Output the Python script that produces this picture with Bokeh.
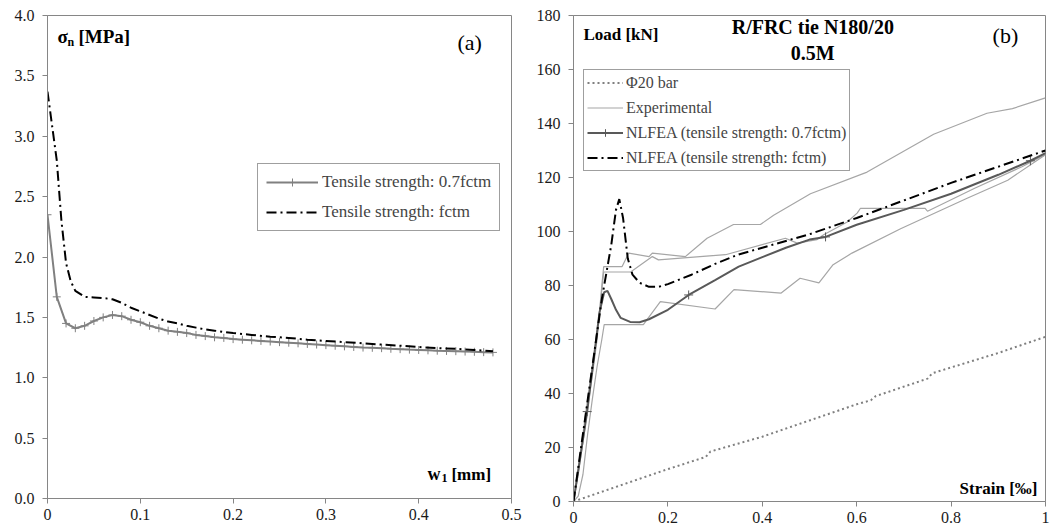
from bokeh.plotting import figure
from bokeh.models import Range1d, FixedTicker, Label
from bokeh.layouts import row
from bokeh.embed import file_html
from bokeh.resources import INLINE

# ---------------- data: panel (a) ----------------
w1_07 = [0.00, 0.01, 0.02, 0.03, 0.04, 0.05, 0.06, 0.07, 0.08, 0.09, 0.10, 0.11, 0.12, 0.13,
         0.14, 0.15, 0.16, 0.17, 0.18, 0.19, 0.20, 0.21, 0.22, 0.23, 0.24, 0.25, 0.26, 0.27,
         0.28, 0.29, 0.30, 0.31, 0.32, 0.33, 0.34, 0.35, 0.36, 0.37, 0.38, 0.39, 0.40, 0.41,
         0.42, 0.43, 0.44, 0.45, 0.46, 0.47, 0.48]
sig_07 = [2.35, 1.67, 1.45, 1.41, 1.43, 1.47, 1.50, 1.52, 1.51, 1.48, 1.46, 1.43, 1.41, 1.39,
          1.38, 1.37, 1.355, 1.345, 1.335, 1.33, 1.32, 1.315, 1.31, 1.305, 1.30, 1.295, 1.29, 1.285,
          1.28, 1.275, 1.27, 1.265, 1.26, 1.255, 1.25, 1.248, 1.245, 1.24, 1.237, 1.233, 1.23, 1.227,
          1.224, 1.222, 1.22, 1.217, 1.215, 1.212, 1.21]
w1_f = [0.00, 0.01, 0.015, 0.02, 0.025, 0.03, 0.04, 0.05, 0.06, 0.07, 0.08, 0.09, 0.10, 0.11,
        0.12, 0.13, 0.14, 0.15, 0.16, 0.17, 0.18, 0.19, 0.20, 0.22, 0.24, 0.26, 0.28, 0.30,
        0.32, 0.34, 0.36, 0.38, 0.40, 0.42, 0.44, 0.46, 0.48]
sig_f = [3.37, 2.80, 2.30, 1.95, 1.80, 1.72, 1.67, 1.665, 1.66, 1.65, 1.62, 1.58, 1.55, 1.52,
         1.49, 1.465, 1.45, 1.43, 1.415, 1.40, 1.39, 1.38, 1.37, 1.355, 1.34, 1.33, 1.315, 1.305,
         1.295, 1.285, 1.275, 1.265, 1.255, 1.245, 1.24, 1.23, 1.22]
a_xticks = [0, 0.1, 0.2, 0.3, 0.4, 0.5]
a_xlabels = ["0", "0.1", "0.2", "0.3", "0.4", "0.5"]
a_yticks = [0, 0.5, 1.0, 1.5, 2.0, 2.5, 3.0, 3.5, 4.0]
a_ylabels = ["0.0", "0.5", "1.0", "1.5", "2.0", "2.5", "3.0", "3.5", "4.0"]

# ---------------- data: panel (b) ----------------
bar_x = [0, 0.1, 0.2, 0.28, 0.29, 0.4, 0.5, 0.6, 0.63, 0.64, 0.75, 0.76, 0.9, 1.0]
bar_y = [0, 6, 12, 16.5, 18.5, 24, 30, 36, 37.5, 39, 45.5, 47.5, 55, 61]

exp1_x = [0, 0.01, 0.02, 0.03, 0.04, 0.05, 0.055, 0.06, 0.064, 0.103, 0.117, 0.16, 0.167, 0.237,
          0.283, 0.339, 0.396, 0.424, 0.502, 0.622, 0.763, 0.876, 0.93, 1.0]
exp1_y = [0, 12, 25, 38, 50, 62, 70, 80, 87, 87, 92, 90.7, 92, 90.7,
          97.5, 102.6, 102.6, 106, 114, 122, 136, 143.8, 145.5, 149.5]
exp2_x = [0, 0.01, 0.02, 0.03, 0.04, 0.05, 0.058, 0.064, 0.121, 0.167, 0.18, 0.322, 0.449, 0.474,
          0.516, 0.53, 0.58, 0.601, 0.608, 0.745, 0.75, 0.85, 0.95, 1.0]
exp2_y = [0, 10, 22, 35, 47, 60, 75, 85, 85, 90.7, 89.5, 91.4, 97.5, 95.7,
          97, 98.8, 103.5, 106.8, 108.6, 108.6, 107.5, 116, 124, 128.5]
exp3_x = [0, 0.01, 0.02, 0.03, 0.04, 0.05, 0.06, 0.065, 0.148, 0.184, 0.30, 0.34, 0.44, 0.48,
          0.52, 0.55, 0.59, 0.693, 0.834, 0.92, 1.0]
exp3_y = [0, 2, 10, 25, 38, 50, 60, 65.5, 65.5, 74, 71.3, 78.5, 77.2, 82.7,
          81, 87.7, 92, 101, 112.3, 119, 128.4]

n07_x = [0, 0.029, 0.055, 0.065, 0.072, 0.08, 0.09, 0.10, 0.12, 0.14, 0.16, 0.2, 0.244, 0.3,
         0.35, 0.4, 0.45, 0.5, 0.534, 0.6, 0.7, 0.8, 0.9, 0.968, 1.0]
n07_y = [0, 33.3, 70, 77.5, 78, 75, 71, 68, 66.5, 66.4, 67.5, 71, 76.5, 82,
         87, 90.5, 94, 97, 98, 102.5, 108, 114, 121, 126.2, 129]
n07_mx = [0, 0.029, 0.244, 0.534, 0.968]
n07_my = [0, 33.3, 76.5, 98, 126.2]

nf_x = [0, 0.02, 0.04, 0.06, 0.07, 0.08, 0.09, 0.097, 0.105, 0.115, 0.125, 0.14, 0.16, 0.18,
        0.2, 0.25, 0.3, 0.35, 0.4, 0.45, 0.5, 0.6, 0.7, 0.8, 0.9, 1.0]
nf_y = [0, 25, 50, 75, 85, 95, 108, 112, 105, 90, 84, 81, 79.5, 79.5,
        80.5, 84, 88, 91.5, 94, 96.5, 99, 105, 111.5, 118, 124, 130]

b_xticks = [0, 0.2, 0.4, 0.6, 0.8, 1.0]
b_xlabels = ["0", "0.2", "0.4", "0.6", "0.8", "1"]
b_yticks = [0, 20, 40, 60, 80, 100, 120, 140, 160, 180]

SERIF = "Liberation Serif"
AXIS_GRAY = "#868686"


def style(p):
    p.grid.visible = False
    p.outline_line_color = AXIS_GRAY
    p.outline_line_width = 1
    p.background_fill_color = "white"
    p.border_fill_color = "white"
    for ax in (p.xaxis[0], p.yaxis[0]):
        ax.axis_line_color = AXIS_GRAY
        ax.major_tick_line_color = AXIS_GRAY
        ax.major_tick_out = 5
        ax.major_tick_in = 0
        ax.minor_tick_line_color = None
        ax.major_label_text_font = SERIF
        ax.major_label_text_font_size = "16px"
        ax.major_label_text_color = "#1a1a1a"
    p.yaxis[0].major_label_standoff = 8
    p.xaxis[0].major_label_standoff = 5


def lab(p, x, y, text, size, bold=True, align="left", baseline="middle"):
    p.add_layout(Label(x=x, y=y, text=text, text_font=SERIF, text_font_size=size,
                       text_font_style="bold" if bold else "normal", text_align=align,
                       text_baseline=baseline, text_color="#000000"))


# ---------------- panel (a) ----------------
pa = figure(frame_width=464, frame_height=483, min_border_left=47, min_border_top=15,
            min_border_bottom=33, min_border_right=22, output_backend="svg",
            toolbar_location=None, x_range=Range1d(0, 0.5), y_range=Range1d(0, 4))
style(pa)
pa.xaxis[0].ticker = FixedTicker(ticks=a_xticks)
pa.xaxis[0].major_label_overrides = {t: l for t, l in zip(a_xticks, a_xlabels)}
pa.yaxis[0].ticker = FixedTicker(ticks=a_yticks)
pa.yaxis[0].major_label_overrides = {t: l for t, l in zip(a_yticks, a_ylabels)}

pa.line(w1_07, sig_07, line_color="#808080", line_width=2,
        legend_label="Tensile strength: 0.7fctm")
pa.scatter(w1_07, sig_07, marker="cross", size=8, line_color="#808080", line_width=1,
           legend_label="Tensile strength: 0.7fctm")
pa.line(w1_f, sig_f, line_color="#000000", line_width=2, line_dash="10 4 2 4",
        legend_label="Tensile strength: fctm")

lega = pa.legend[0]
lega.location = (210, 267)
lega.label_text_font = SERIF
lega.label_text_font_size = "17px"
lega.border_line_color = "#404040"
lega.border_line_width = 1
lega.padding = 8
lega.spacing = 10
lega.glyph_width = 52
lega.glyph_height = 20
lega.label_height = 20
lega.label_standoff = 4
lega.margin = 0

lab(pa, 0.0108, 3.83, "σ", "19px")
lab(pa, 0.0216, 3.78, "n", "12px")
lab(pa, 0.0334, 3.83, "[MPa]", "19px")
lab(pa, 0.455, 3.78, "(a)", "22px", bold=False, align="center")
lab(pa, 0.4095, 0.20, "w", "18px")
lab(pa, 0.4246, 0.17, "1", "12px")
lab(pa, 0.4353, 0.20, "[mm]", "17px")

# ---------------- panel (b) ----------------
pb = figure(frame_width=472, frame_height=486, min_border_left=40, min_border_top=14,
            min_border_bottom=31, min_border_right=9, output_backend="svg",
            toolbar_location=None, x_range=Range1d(0, 1), y_range=Range1d(0, 180))
style(pb)
pb.xaxis[0].ticker = FixedTicker(ticks=b_xticks)
pb.xaxis[0].major_label_overrides = {t: l for t, l in zip(b_xticks, b_xlabels)}
pb.yaxis[0].ticker = FixedTicker(ticks=b_yticks)

pb.line(bar_x, bar_y, line_color="#7f7f7f", line_width=2, line_dash="2 3",
        legend_label="Φ20 bar")
pb.line(exp1_x, exp1_y, line_color="#a6a6a6", line_width=1.2, legend_label="Experimental")
pb.line(exp2_x, exp2_y, line_color="#a6a6a6", line_width=1.2)
pb.line(exp3_x, exp3_y, line_color="#a6a6a6", line_width=1.2)
pb.line(n07_x, n07_y, line_color="#595959", line_width=2,
        legend_label="NLFEA (tensile strength: 0.7fctm)")
pb.scatter(n07_mx, n07_my, marker="cross", size=9, line_color="#595959", line_width=1,
           legend_label="NLFEA (tensile strength: 0.7fctm)")
pb.line(nf_x, nf_y, line_color="#000000", line_width=2, line_dash="10 4 2 4",
        legend_label="NLFEA (tensile strength: fctm)")

legb = pb.legend[0]
legb.location = (10, 330)
legb.label_text_font = SERIF
legb.label_text_font_size = "16px"
legb.border_line_color = "#404040"
legb.border_line_width = 1
legb.padding = 3
legb.spacing = 6
legb.glyph_width = 36
legb.glyph_height = 19
legb.label_height = 19
legb.label_standoff = 3
legb.margin = 0

lab(pb, 0.021, 173, "Load [kN]", "17px")
lab(pb, 0.507, 175.9, "R/FRC tie N180/20", "20px", align="center")
lab(pb, 0.507, 166.0, "0.5M", "20px", align="center")
lab(pb, 0.915, 172.5, "(b)", "22px", bold=False, align="center")
lab(pb, 0.983, 5, "Strain [‰]", "17px", align="right")

layout = row(pa, pb)
open("out.html", "w").write(file_html(layout, INLINE))
